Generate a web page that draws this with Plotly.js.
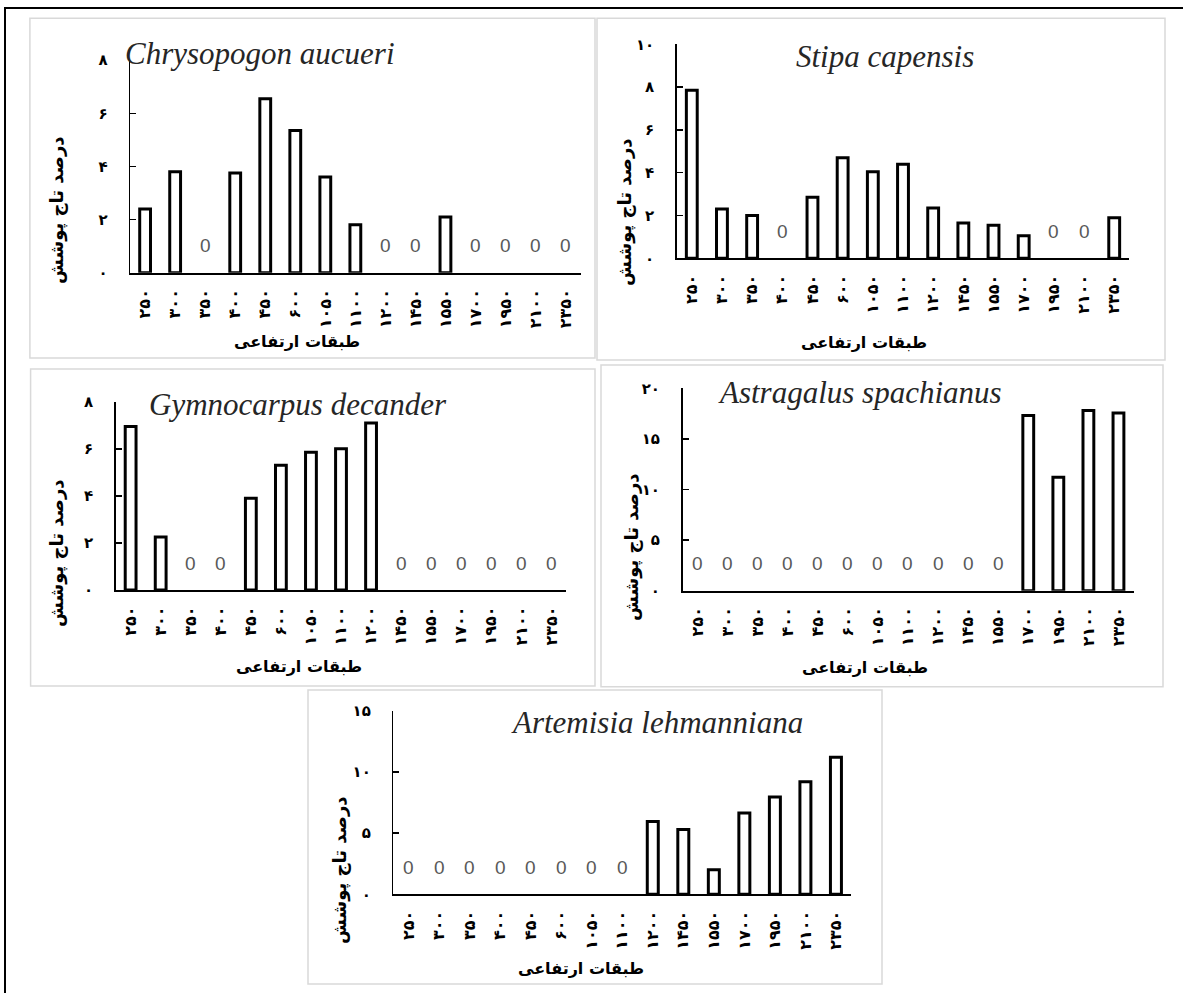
<!DOCTYPE html>
<html><head><meta charset="utf-8">
<script src="https://cdn.plot.ly/plotly-3.0.1.min.js"></script>
<style>html,body{margin:0;padding:0;background:#fff;}#chart{width:1183px;height:993px;}</style>
</head><body><div id="chart"></div>
<script>
// ---- data ----
const elevationLabels = ['۲۵۰','۳۰۰','۳۵۰','۴۰۰','۴۵۰','۶۰۰','۱۰۵۰','۱۱۰۰','۱۲۰۰','۱۴۵۰','۱۵۵۰','۱۷۰۰','۱۹۵۰','۲۱۰۰','۲۳۵۰'];
const speciesNames = ['Chrysopogon aucueri','Stipa capensis','Gymnocarpus decander','Astragalus spachianus','Artemisia lehmanniana'];
const chrysopogon = [2.4,3.8,0,3.75,6.55,5.35,3.6,1.8,0,0,2.1,0,0,0,0];
const stipa       = [7.85,2.3,2.0,0,2.85,4.7,4.05,4.4,2.35,1.65,1.55,1.05,0,0,1.9];
const gymnocarpus = [6.95,2.25,0,0,3.9,5.3,5.85,6.0,7.1,0,0,0,0,0,0];
const astragalus  = [0,0,0,0,0,0,0,0,0,0,0,17.3,11.2,17.8,17.55];
const artemisia   = [0,0,0,0,0,0,0,0,5.95,5.3,2.0,6.65,7.95,9.2,11.2];
const yAxisMax  = [8,10,8,20,15];
const yAxisStep = [2,2,2,5,5];
const xAxisTitle = 'طبقات ارتفاعی';
const yAxisTitle = 'درصد تاج پوشش';

// ---- helpers ----
const W = 1183, H = 993;
const faDigits = ['۰','۱','۲','۳','۴','۵','۶','۷','۸','۹'];
const toFa = n => String(n).replace(/\d/g, d => faDigits[+d]);
const px = x => x / W;
const py = y => 1 - y / H;

const series = [chrysopogon, stipa, gymnocarpus, astragalus, artemisia];

// layout geometry (pixels)
const plotBoxes = [
  {x0:130.1, x1:580.6, top:60.1,  zero:272.7},
  {x0:676.7, x1:1129.3, top:44.3, zero:258.3},
  {x0:115.6, x1:566.4, top:401.7, zero:590},
  {x0:682.5, x1:1133.5, top:388.3, zero:590.7},
  {x0:393.3, x1:851.2, top:710.7, zero:894.3}
];
const panelBoxes = [
  [29.9,18.3,595,358],[597,18.3,1165,360],[30.6,369,595,686],[601,365,1163,686.7],[308,690,882,984]
];
const titlePos = [[260,54],[885,56],[298,404],[860,392],[657,722]];
const xTitlePos = [[297,341],[864,342],[299,666],[865,667],[581,968]];
const yTitlePos = [[57,210],[625,212],[57,553],[632,547],[340,870]];

const faFont = 'DejaVu Sans, sans-serif';
const traces = [], annotations = [], shapes = [];
const layout = {
  width: W, height: H, margin:{l:0,r:0,t:0,b:0},
  paper_bgcolor:'#fff', plot_bgcolor:'rgba(0,0,0,0)',
  showlegend:false, bargap:0.64
};

series.forEach((vals, k) => {
  const n = k + 1;
  const xa = 'x' + (n === 1 ? '' : n), ya = 'y' + (n === 1 ? '' : n);
  traces.push({
    type:'bar', x: elevationLabels, y: vals.map(v => v === 0 ? null : v), xaxis: xa, yaxis: ya,
    marker:{color:'#ffffff', line:{color:'#000000', width:3}},
    hoverinfo:'x+y'
  });
  const b = plotBoxes[k];
  const tickvals = [];
  for (let v = 0; v <= yAxisMax[k]; v += yAxisStep[k]) tickvals.push(v);
  layout['xaxis' + (n === 1 ? '' : n)] = {
    domain:[px(b.x0), px(b.x1)], anchor: ya, type:'category',
    range:[-0.5, elevationLabels.length - 0.5],
    showline:true, linecolor:'#000', linewidth:2, ticks:'', showgrid:false, zeroline:false,
    tickangle:-90, ticklabelstandoff:8,
    tickfont:{family:faFont, size:16, color:'#000', weight:'bold'}
  };
  layout['yaxis' + (n === 1 ? '' : n)] = {
    domain:[py(b.zero), py(b.top)], anchor: xa,
    range:[0, yAxisMax[k]], tickvals: tickvals, ticktext: tickvals.map(toFa),
    showline:true, linecolor:'#000', linewidth:1.5, ticks:'inside', ticklen:6, tickwidth:1.5, tickcolor:'#000',
    showgrid:false, zeroline:false, ticklabelstandoff:18,
    tickfont:{family:faFont, size:15, color:'#000', weight:'bold'}
  };
  // zero value labels
  vals.forEach((v, i) => {
    if (v === 0) annotations.push({
      xref: xa, yref: ya, x: elevationLabels[i], y: v, text: String(v),
      showarrow:false, yshift:27, yanchor:'middle',
      font:{family:'Liberation Sans, Arial, sans-serif', size:19, color:'#595959'}
    });
  });
  // species title
  annotations.push({
    xref:'paper', yref:'paper', x: px(titlePos[k][0]), y: py(titlePos[k][1]),
    xanchor:'center', yanchor:'middle', showarrow:false, text: speciesNames[k],
    font:{family:'Liberation Serif, Times New Roman, serif', size:31, color:'#262626', style:'italic'}
  });
  // axis titles
  annotations.push({
    xref:'paper', yref:'paper', x: px(xTitlePos[k][0]), y: py(xTitlePos[k][1]),
    xanchor:'center', yanchor:'middle', showarrow:false, text: xAxisTitle,
    font:{family:faFont, size:16, color:'#000', weight:'bold'}
  });
  annotations.push({
    xref:'paper', yref:'paper', x: px(yTitlePos[k][0]), y: py(yTitlePos[k][1]),
    xanchor:'center', yanchor:'middle', showarrow:false, text: yAxisTitle, textangle:-90,
    font:{family:faFont, size:18, color:'#000', weight:'bold'}
  });
  const pb = panelBoxes[k];
  shapes.push({type:'rect', xref:'paper', yref:'paper', x0:px(pb[0]), x1:px(pb[2]), y0:py(pb[3]), y1:py(pb[1]),
    line:{color:'#d9d9d9', width:1.5}, fillcolor:'rgba(0,0,0,0)', layer:'below'});
});
// outer frame
shapes.push({type:'rect', xref:'paper', yref:'paper', x0:px(5), x1:px(1200), y0:py(1010), y1:py(8),
  line:{color:'#000', width:2}, fillcolor:'rgba(0,0,0,0)'});
layout.annotations = annotations;
layout.shapes = shapes;
Plotly.newPlot('chart', traces, layout, {displayModeBar:false, staticPlot:true});
</script></body></html>
